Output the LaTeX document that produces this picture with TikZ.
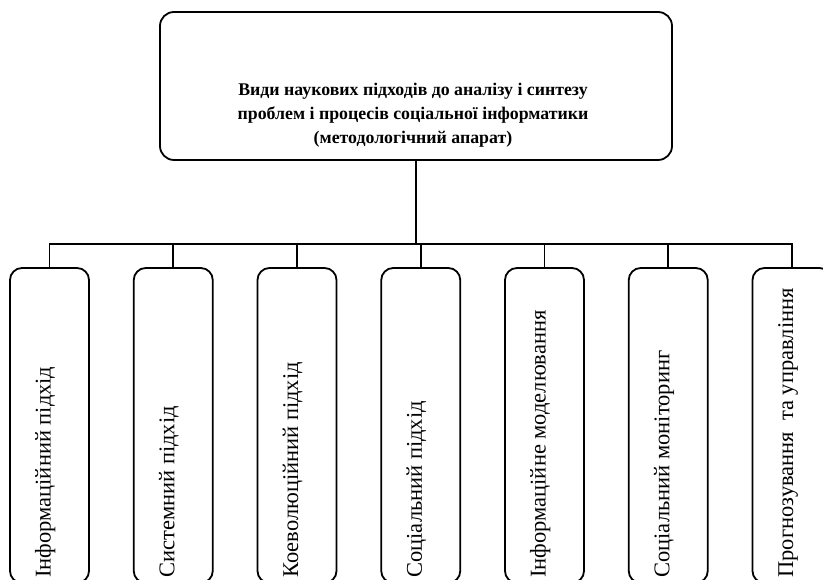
\documentclass[tikz,border=0pt]{standalone}
\usepackage{fontspec}
\setmainfont{Liberation Serif}
\usetikzlibrary{calc}

\tikzset{
	headbox/.style={draw, line width=1.8pt, rounded corners=14pt, minimum width=512pt, minimum height=148pt},
	kindbox/.style={draw, line width=1.8pt, rounded corners=12pt, minimum width=79pt, minimum height=315pt},
	kindtext/.style={rotate=90, anchor=base west, inner sep=0pt, font=\fontsize{22.5}{26}\selectfont},
	wire/.style={line width=1.6pt}
}

\begin{document}
\begin{tikzpicture}[x=1pt, y=1pt]
	\useasboundingbox (0,0) rectangle (823,580);

	\node[headbox] (top) at (416,494) {};
	\node[align=center, font=\fontsize{17.8}{24}\selectfont\bfseries] (title) at (413,465)
		{Види наукових підходів до аналізу і синтезу\\проблем і процесів соціальної інформатики\\(методологічний апарат)};

	\foreach \i/\txt in {1/Інформаційний підхід, 2/Системний підхід, 3/Коеволюційний підхід,
		4/Соціальний підхід, 5/Інформаційне моделювання, 6/Соціальний моніторинг,
		7/Прогнозування \ та управління}
	{
		\node[kindbox] (b\i) at ({49.5+123.75*(\i-1)},154.5) {};
		\node[kindtext] (t\i) at ($(b\i.south)+(1,6)$) {\txt};
	}

	\coordinate (bus) at (416,336);
	\draw[wire] (top.south) -- (bus);
	\draw[wire] (b1.north) |- (bus) -| (b7.north);
	\foreach \i in {2,...,6}
		\draw[wire] (b\i.north) -- (b\i.north |- bus);

\end{tikzpicture}
\end{document}
